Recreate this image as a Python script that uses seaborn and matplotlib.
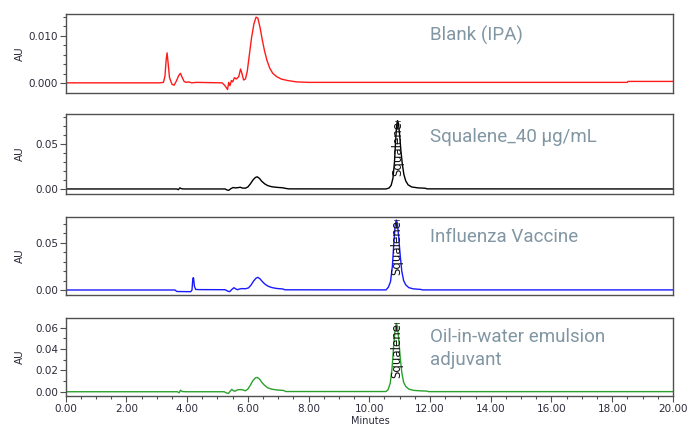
import matplotlib
matplotlib.use('Agg')
import matplotlib.pyplot as plt
import seaborn as sns
import pandas as pd
from matplotlib.ticker import MultipleLocator, FormatStrFormatter

sns.set_style('ticks')

# retention time (min) and absorbance (AU)
blank_t = [0.0, 3.10, 3.22, 3.27, 3.31, 3.34, 3.37, 3.42, 3.50, 3.57, 3.64, 3.72, 3.78, 3.84,
           3.90, 3.96, 4.05, 4.15, 4.30, 5.15, 5.22, 5.28, 5.33, 5.37, 5.41, 5.46, 5.50, 5.56,
           5.62, 5.70, 5.76, 5.80, 5.86, 5.92, 5.98, 6.05, 6.12, 6.20, 6.27, 6.33, 6.40, 6.47,
           6.55, 6.63, 6.72, 6.82, 6.95, 7.10, 7.30, 7.60, 8.00, 18.50, 18.52, 20.0]
blank_au = [0.0001, 0.0001, 0.0002, 0.0015, 0.0050, 0.0064, 0.0045, 0.0012, -0.0002, -0.0004,
            0.0004, 0.0016, 0.0021, 0.0012, 0.0004, 0.0002, 0.0003, 0.0001, 0.0002, 0.0001,
            -0.0003, -0.0008, -0.0013, 0.0002, -0.0005, 0.0006, 0.0003, 0.0012, 0.0009, 0.0014,
            0.0030, 0.0022, 0.0007, 0.0009, 0.0025, 0.0060, 0.0095, 0.0125, 0.0139, 0.0137,
            0.0118, 0.0093, 0.0068, 0.0048, 0.0032, 0.0021, 0.0014, 0.0009, 0.0006, 0.0003,
            0.0002, 0.0002, 0.0004, 0.0004]

std_t = [0.0, 3.66, 3.71, 3.76, 3.82, 3.90, 5.25, 5.32, 5.37, 5.44, 5.51, 5.58, 5.66, 5.75,
         5.82, 5.92, 6.00, 6.08, 6.17, 6.25, 6.31, 6.38, 6.46, 6.55, 6.65, 6.78, 6.95, 7.15,
         7.25, 7.35, 10.55, 10.65, 10.72, 10.78, 10.83, 10.87, 10.90, 10.93, 10.96, 11.00,
         11.04, 11.09, 11.14, 11.20, 11.28, 11.40, 11.60, 11.85, 11.90, 20.0]
std_au = [0.0, 0.0, -0.0008, 0.0012, 0.0002, 0.0, 0.0, -0.0012, -0.0015, 0.0003, 0.0016,
          0.0012, 0.0014, 0.0019, 0.0010, 0.0009, 0.0022, 0.0055, 0.0100, 0.0128, 0.0135,
          0.0118, 0.0085, 0.0058, 0.0038, 0.0025, 0.0018, 0.0013, 0.0006, 0.0001, 0.0,
          0.0010, 0.0040, 0.012, 0.030, 0.055, 0.071, 0.076, 0.073, 0.060, 0.043, 0.027,
          0.016, 0.009, 0.0045, 0.0022, 0.0012, 0.0008, 0.0001, 0.0]

flu_t = [0.0, 3.60, 3.66, 4.12, 4.16, 4.19, 4.21, 4.24, 4.28, 4.40, 5.25, 5.34, 5.40, 5.47,
         5.54, 5.60, 5.66, 5.72, 5.80, 5.92, 6.02, 6.10, 6.19, 6.27, 6.33, 6.40, 6.48, 6.57,
         6.68, 6.80, 6.95, 7.15, 7.22, 10.55, 10.63, 10.70, 10.76, 10.81, 10.85, 10.89, 10.93,
         10.97, 11.02, 11.07, 11.13, 11.20, 11.30, 11.45, 11.70, 11.75, 20.0]
flu_au = [0.0, 0.0, -0.0016, -0.0018, 0.0, 0.0125, 0.0130, 0.0040, 0.0006, 0.0004, 0.0003,
          -0.0012, -0.0018, 0.0005, 0.0024, 0.0012, 0.0003, 0.0010, 0.0015, 0.0013, 0.0022,
          0.0050, 0.0095, 0.0125, 0.0134, 0.0118, 0.0088, 0.0060, 0.0038, 0.0025, 0.0016,
          0.0011, 0.0002, 0.0001, 0.0030, 0.0090, 0.025, 0.050, 0.068, 0.074, 0.070, 0.055,
          0.036, 0.020, 0.010, 0.0055, 0.0025, 0.0012, 0.0006, 0.0001, 0.0001]

emul_t = [0.0, 3.68, 3.74, 3.78, 3.84, 3.95, 5.22, 5.30, 5.36, 5.42, 5.47, 5.53, 5.58, 5.66,
          5.75, 5.83, 5.92, 6.00, 6.08, 6.17, 6.25, 6.31, 6.38, 6.46, 6.55, 6.66, 6.80, 6.98,
          7.18, 7.25, 10.55, 10.62, 10.69, 10.75, 10.80, 10.85, 10.89, 10.93, 10.97, 11.02,
          11.07, 11.13, 11.20, 11.30, 11.45, 11.70, 11.90, 11.95, 20.0]
emul_au = [0.0, 0.0, -0.0010, 0.0014, 0.0002, 0.0, 0.0, -0.0012, -0.0016, 0.0006, 0.0022,
           0.0008, 0.0005, 0.0018, 0.0020, 0.0018, 0.0009, 0.0025, 0.0060, 0.0105, 0.0130,
           0.0134, 0.0120, 0.0088, 0.0060, 0.0036, 0.0023, 0.0016, 0.0012, 0.0002, 0.0002,
           0.0020, 0.0080, 0.022, 0.042, 0.058, 0.064, 0.061, 0.049, 0.032, 0.018, 0.009,
           0.0050, 0.0025, 0.0013, 0.0008, 0.0006, 0.0001, 0.0001]

labels = ['Blank (IPA)', 'Squalene_40 µg/mL', 'Influenza Vaccine', 'Oil-in-water emulsion\nadjuvant']
colors = ['#ff1a1a', '#000000', '#1a1aff', '#2ca02c']
squalene_rt = [None, 10.93, 10.89, 10.89]
squalene_top = [None, 0.076, 0.074, 0.064]

traces = [(blank_t, blank_au), (std_t, std_au), (flu_t, flu_au), (emul_t, emul_au)]
ylims = [(-0.00197, 0.01456), (-0.0056, 0.0833), (-0.0053, 0.0772), (-0.004, 0.069)]
ymajor = [0.010, 0.05, 0.05, 0.02]
yminor = [0.002, 0.01, 0.01, 0.01]
yfmt = ['%.3f', '%.2f', '%.2f', '%.2f']
# axes boxes in figure fraction
boxes = [(0.0952, 0.7824, 0.880, 0.1847),
         (0.0952, 0.5446, 0.880, 0.1878),
         (0.0952, 0.3075, 0.880, 0.1831),
         (0.0952, 0.0704, 0.880, 0.1831)]
label_y = [0.73, 0.71, 0.74, 0.61]

fig = plt.figure(figsize=(6.9, 4.26), dpi=100)

for i in range(4):
    ax = fig.add_axes(boxes[i])
    df = pd.DataFrame({'Minutes': traces[i][0], 'AU': traces[i][1]})
    sns.lineplot(data=df, x='Minutes', y='AU', ax=ax, color=colors[i], linewidth=1.0,
                 estimator=None, sort=False)
    ax.set_xlim(0, 20)
    ax.set_ylim(*ylims[i])
    ax.set_xlabel('')
    ax.set_ylabel('')
    for s in ax.spines.values():
        s.set_visible(True)
        s.set_color('#505050')
        s.set_linewidth(1.0)
    ax.yaxis.set_major_locator(MultipleLocator(ymajor[i]))
    ax.yaxis.set_minor_locator(MultipleLocator(yminor[i]))
    ax.yaxis.set_major_formatter(FormatStrFormatter(yfmt[i]))
    ax.tick_params(axis='y', which='major', length=4, width=0.8, color='#505050',
                   labelsize=7.5, labelcolor='#2b2b3b', pad=1.5)
    ax.tick_params(axis='y', which='minor', length=2.5, width=0.8, color='#505050')
    if i < 3:
        ax.tick_params(axis='x', which='both', bottom=False, labelbottom=False)
    else:
        ax.xaxis.set_major_locator(MultipleLocator(2))
        ax.xaxis.set_minor_locator(MultipleLocator(0.5))
        ax.xaxis.set_major_formatter(FormatStrFormatter('%.2f'))
        ax.tick_params(axis='x', which='major', length=4, width=0.8, color='#505050',
                       labelsize=7.5, labelcolor='#2b2b3b', pad=2)
        ax.tick_params(axis='x', which='minor', length=2.5, width=0.8, color='#505050')
    ax.text(0.600, label_y[i], labels[i], transform=ax.transAxes, ha='left', va='center',
            fontsize=13.5, color='#8196a3', family='Roboto', linespacing=1.4)
    if squalene_rt[i] is not None:
        ax.text(squalene_rt[i], squalene_top[i], 'Squalene', rotation=90, ha='center',
                va='top', fontsize=8.5, color='#111111')
        ax.plot([squalene_rt[i] - 0.08, squalene_rt[i] + 0.08],
                [squalene_top[i], squalene_top[i]], color='#333333', linewidth=0.6)
    yc = boxes[i][1] + boxes[i][3] / 2
    fig.text(20 / 690, yc, 'AU', rotation=90, ha='center', va='center', fontsize=7.5,
             color='#2b2b3b')

fig.text(370 / 690, 0.012, 'Minutes', ha='center', va='center', fontsize=7, color='#2b2b3b')

fig.savefig('out.png', dpi=100)
